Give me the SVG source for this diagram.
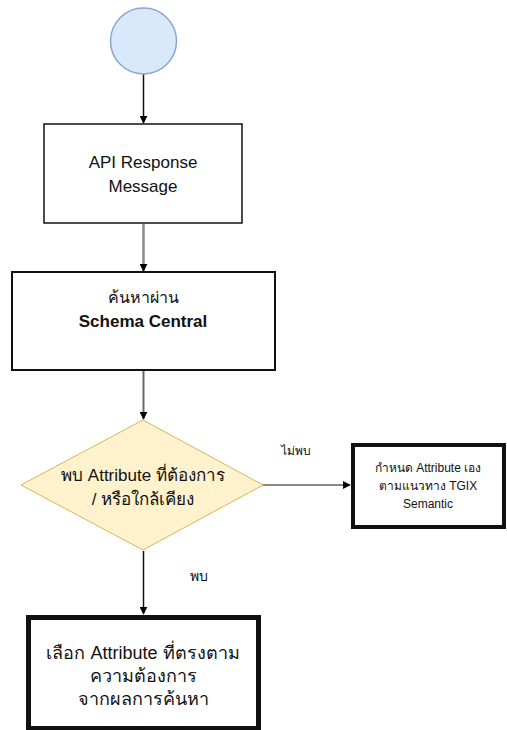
<svg xmlns="http://www.w3.org/2000/svg" width="507" height="730" viewBox="0 0 507 730">
<defs>
<style>
text{font-family:"Liberation Sans","Noto Sans",Arial,sans-serif;fill:#111;text-anchor:middle}
.box{fill:#fff;stroke:#111}
.conn{fill:none}
</style>
<marker id="ah" viewBox="0 0 10 10" refX="9" refY="5" markerWidth="8" markerHeight="8" markerUnits="userSpaceOnUse" orient="auto"><path d="M0,0 L10,5 L0,10 z" fill="#000"/></marker>
</defs>
<rect width="507" height="730" fill="#fff"/>
<g id="connectors">
<line class="conn" x1="143.5" y1="74" x2="143.5" y2="123" stroke="#111" stroke-width="1.5" marker-end="url(#ah)"/>
<line class="conn" x1="143.5" y1="224" x2="143.5" y2="271" stroke="#888" stroke-width="2.5" marker-end="url(#ah)"/>
<line class="conn" x1="143.5" y1="371" x2="143.5" y2="419" stroke="#666" stroke-width="2" marker-end="url(#ah)"/>
<line class="conn" x1="263" y1="485" x2="350" y2="485" stroke="#888" stroke-width="2" marker-end="url(#ah)"/>
<line class="conn" x1="143.5" y1="551" x2="143.5" y2="614" stroke="#111" stroke-width="1.5" marker-end="url(#ah)"/>
<text x="296" y="455" font-size="12">ไม่พบ</text>
<text x="199" y="581" font-size="14">พบ</text>
</g>
<g id="start">
<circle cx="143.5" cy="41" r="33" fill="#dae8fc" stroke="#8aa6d0" stroke-width="1.5"/>
</g>
<g id="api">
<rect class="box" x="44" y="124" width="198" height="99" stroke-width="1.5" stroke="#333"/>
<text x="143" y="168" font-size="17">API Response</text>
<text x="143" y="192" font-size="17">Message</text>
</g>
<g id="search">
<rect class="box" x="12" y="272" width="263" height="98" stroke-width="2" stroke="#222"/>
<text x="143" y="303" font-size="16">ค้นหาผ่าน</text>
<text x="143" y="327" font-size="17" font-weight="bold">Schema Central</text>
</g>
<g id="decision">
<path d="M143,420 L263,485 L143,550 L21,485 z" fill="#fff2cc" stroke="#d6b656" stroke-width="1"/>
<text x="143" y="481" font-size="17">พบ Attribute ที่ต้องการ</text>
<text x="143" y="505" font-size="17">/ หรือใกล้เคียง</text>
</g>
<g id="manual">
<rect class="box" x="353" y="445" width="151" height="82" stroke-width="4"/>
<text x="428" y="472" font-size="12">กำหนด Attribute เอง</text>
<text x="428" y="490" font-size="12">ตามแนวทาง TGIX</text>
<text x="428" y="508" font-size="12">Semantic</text>
</g>
<g id="select">
<rect class="box" x="28.5" y="617.5" width="230" height="111" stroke-width="5"/>
<text x="143" y="659" font-size="18">เลือก Attribute ที่ตรงตาม</text>
<text x="143" y="682" font-size="18">ความต้องการ</text>
<text x="143" y="705" font-size="18">จากผลการค้นหา</text>
</g>
</svg>
